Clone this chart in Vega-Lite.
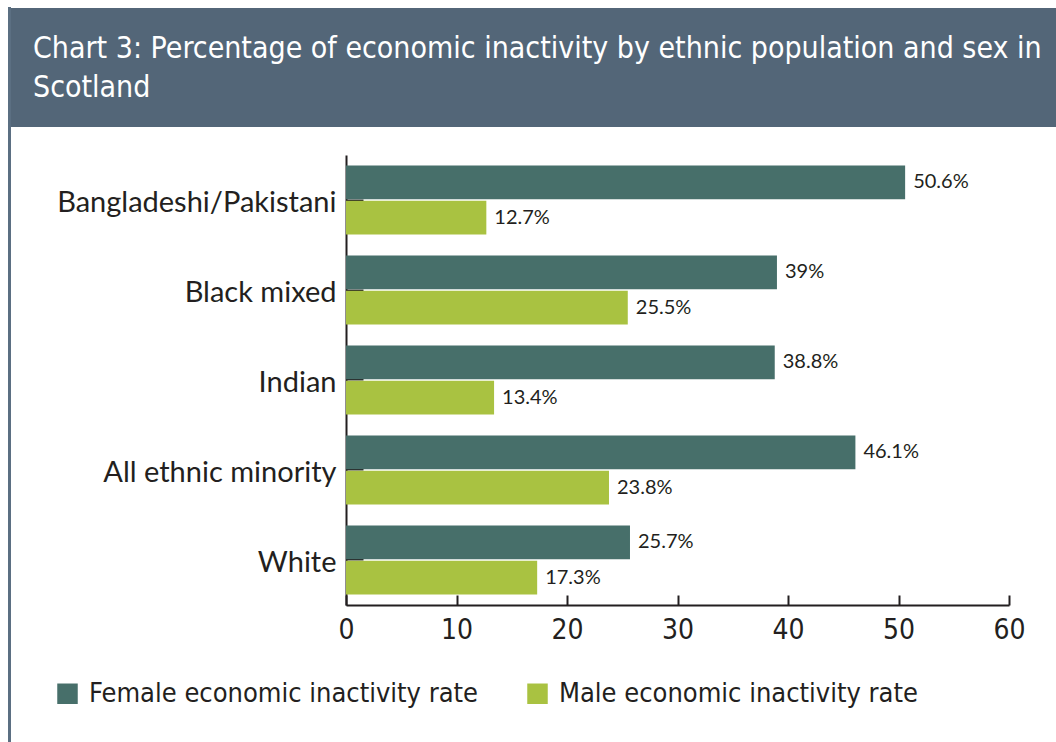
{
  "$schema": "https://vega.github.io/schema/vega-lite/v6.json",
  "padding": {"left": 8, "top": 7, "right": 0, "bottom": 0},
  "background": "white",
  "spacing": -3,
  "config": {"view": {"stroke": null}, "font": "Lato"},
  "hconcat": [
    {
      "width": 1,
      "height": 742,
      "view": {"stroke": "#5b6f82", "strokeWidth": 2, "fill": null},
      "data": {"values": []},
      "mark": "point",
      "encoding": {}
    },
    {
      "spacing": 28,
      "vconcat": [
        {
          "width": 1048,
          "height": 119,
          "view": {"fill": "#536678", "stroke": null},
          "data": {"values": [
            {"line": "Chart 3: Percentage of economic inactivity by ethnic population and sex in", "n": 1},
            {"line": "Scotland", "n": 2}
          ]},
          "mark": {"type": "text", "align": "left", "baseline": "alphabetic", "color": "white", "fontSize": 30, "font": "DejaVu Sans Condensed, Roboto"},
          "encoding": {
            "x": {"value": 22},
            "y": {"field": "n", "type": "ordinal", "axis": null, "scale": {"range": [50, 89], "padding": 0}},
            "text": {"field": "line"}
          }
        },
        {
          "spacing": 0,
          "hconcat": [
            {
              "width": 1,
              "height": 450,
              "view": {"stroke": null, "fill": null},
              "data": {"values": []},
              "mark": "point",
              "encoding": {}
            },
            {
              "width": 663,
              "height": 450,
              "data": {"values": [
                {"group": "Bangladeshi/Pakistani", "sex": "Female economic inactivity rate", "value": 50.6},
                {"group": "Bangladeshi/Pakistani", "sex": "Male economic inactivity rate", "value": 12.7},
                {"group": "Black mixed", "sex": "Female economic inactivity rate", "value": 39},
                {"group": "Black mixed", "sex": "Male economic inactivity rate", "value": 25.5},
                {"group": "Indian", "sex": "Female economic inactivity rate", "value": 38.8},
                {"group": "Indian", "sex": "Male economic inactivity rate", "value": 13.4},
                {"group": "All ethnic minority", "sex": "Female economic inactivity rate", "value": 46.1},
                {"group": "All ethnic minority", "sex": "Male economic inactivity rate", "value": 23.8},
                {"group": "White", "sex": "Female economic inactivity rate", "value": 25.7},
                {"group": "White", "sex": "Male economic inactivity rate", "value": 17.3}
              ]},
              "transform": [{"calculate": "datum.value + '%'", "as": "label"}],
              "encoding": {
                "y": {
                  "field": "group",
                  "type": "nominal",
                  "sort": ["Bangladeshi/Pakistani", "Black mixed", "Indian", "All ethnic minority", "White"],
                  "scale": {"paddingInner": 0.233, "paddingOuter": 0.117},
                  "axis": {
                    "title": null,
                    "labelFontSize": 29,
                    "labelColor": "#231f20",
                    "labelFont": "Lato",
                    "labelLimit": 0,
                    "labelOffset": 3,
                    "domainColor": "#231f20",
                    "domainWidth": 2,
                    "tickColor": "#231f20",
                    "tickWidth": 2,
                    "tickSize": -17,
                    "labelPadding": 27,
                    "minExtent": 334
                  }
                },
                "yOffset": {
                  "field": "sex",
                  "type": "nominal",
                  "sort": ["Female economic inactivity rate", "Male economic inactivity rate"],
                  "scale": {"paddingInner": 0.04}
                },
                "x": {
                  "field": "value",
                  "type": "quantitative",
                  "scale": {"domain": [0, 60]},
                  "axis": {
                    "title": null,
                    "values": [0, 10, 20, 30, 40, 50, 60],
                    "grid": false,
                    "labelFlush": false,
                    "labelFontSize": 28,
                    "labelFont": "DejaVu Sans Condensed, Roboto",
                    "labelColor": "#231f20",
                    "domainColor": "#231f20",
                    "domainWidth": 2,
                    "tickColor": "#231f20",
                    "tickWidth": 2,
                    "tickSize": -10,
                    "labelPadding": 21
                  }
                }
              },
              "layer": [
                {
                  "mark": {"type": "bar"},
                  "encoding": {
                    "color": {
                      "field": "sex",
                      "type": "nominal",
                      "scale": {
                        "domain": ["Female economic inactivity rate", "Male economic inactivity rate"],
                        "range": ["#476f6a", "#a9c241"]
                      },
                      "legend": {
                        "title": null,
                        "orient": "none",
                        "legendX": 45,
                        "legendY": 672,
                        "direction": "horizontal",
                        "symbolType": "square",
                        "symbolSize": 420,
                        "symbolStrokeWidth": 0,
                        "labelFontSize": 27,
                        "labelFont": "DejaVu Sans Condensed, Roboto",
                        "labelColor": "#231f20",
                        "labelOffset": 8,
                        "columnPadding": 45,
                        "labelLimit": 500
                      }
                    }
                  }
                },
                {
                  "mark": {"type": "text", "align": "left", "baseline": "middle", "dx": 8, "fontSize": 20, "color": "#231f20", "font": "Lato"},
                  "encoding": {"text": {"field": "label"}}
                }
              ]
            }
          ]
        }
      ]
    }
  ]
}
